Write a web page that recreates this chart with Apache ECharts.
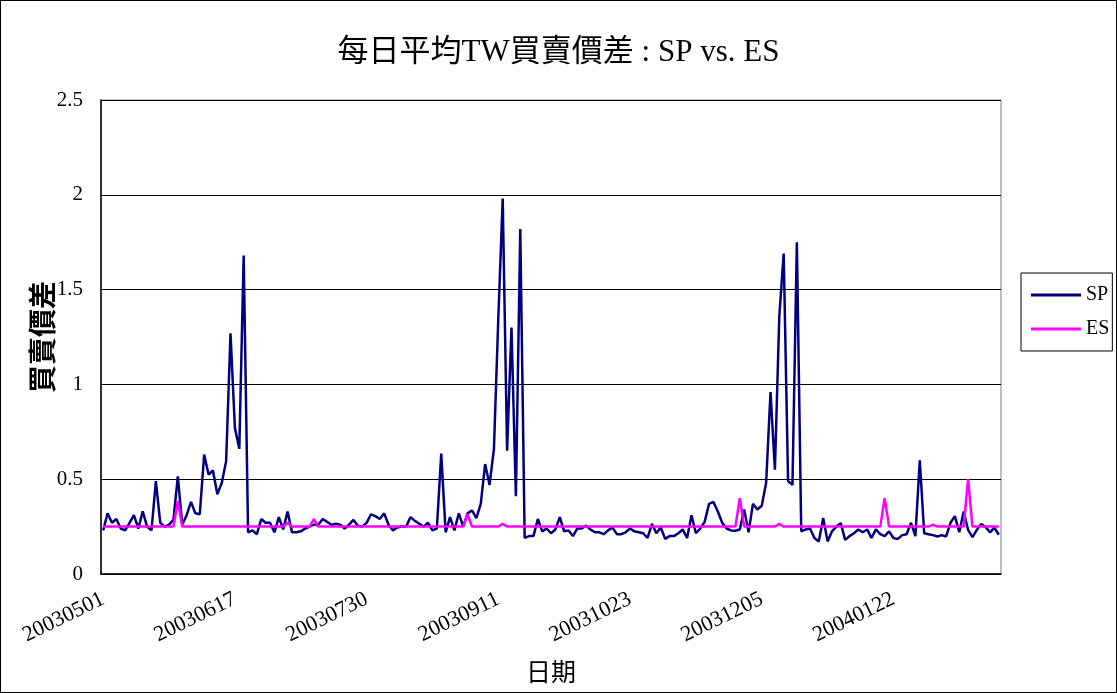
<!DOCTYPE html>
<html>
<head>
<meta charset="utf-8">
<script src="https://cdn.jsdelivr.net/npm/echarts@6/dist/echarts.min.js"></script>
<style>
html,body{margin:0;padding:0;background:#fff;}
#chart{width:1117px;height:693px;box-sizing:border-box;border:1px solid #000;}
</style>
</head>
<body>
<div id="chart"></div>
<script>
// tick labels shown every 30 trading days
const tickLabels = ['20030501','20030617','20030730','20030911','20031023','20031205','20040122'];
const labelStep = 30;

const spValues = [
0.23,0.32,0.27,0.29,0.24,0.23,0.27,0.31,0.24,0.33,
0.25,0.23,0.49,0.27,0.25,0.26,0.285,0.515,0.26,0.31,
0.38,0.32,0.315,0.63,0.525,0.546,0.42,0.48,0.595,1.27,
0.77,0.66,1.68,0.22,0.23,0.21,0.29,0.27,0.27,0.22,
0.30,0.235,0.33,0.22,0.22,0.225,0.24,0.25,0.26,0.26,
0.29,0.275,0.26,0.265,0.26,0.24,0.26,0.285,0.255,0.25,
0.27,0.315,0.305,0.29,0.32,0.26,0.23,0.245,0.25,0.25,
0.30,0.28,0.265,0.25,0.27,0.23,0.24,0.635,0.22,0.30,
0.23,0.32,0.25,0.32,0.335,0.295,0.37,0.58,0.47,0.66,
1.35,1.98,0.65,1.30,0.41,1.82,0.19,0.20,0.20,0.29,
0.225,0.24,0.215,0.235,0.30,0.225,0.23,0.20,0.24,0.24,
0.255,0.235,0.22,0.22,0.21,0.23,0.245,0.21,0.21,0.22,
0.24,0.225,0.22,0.215,0.19,0.265,0.215,0.245,0.185,0.20,
0.20,0.215,0.235,0.19,0.31,0.215,0.24,0.275,0.37,0.38,
0.33,0.27,0.24,0.23,0.228,0.235,0.34,0.22,0.37,0.34,
0.36,0.48,0.96,0.55,1.36,1.69,0.49,0.47,1.75,0.225,
0.235,0.24,0.19,0.172,0.295,0.172,0.225,0.25,0.268,0.18,
0.20,0.215,0.235,0.22,0.235,0.19,0.235,0.21,0.20,0.225,
0.19,0.185,0.205,0.21,0.27,0.20,0.60,0.215,0.21,0.205,
0.198,0.205,0.198,0.27,0.305,0.22,0.33,0.233,0.195,0.233,
0.264,0.247,0.22,0.245,0.207
];

const esValues = [
0.25,0.25,0.25,0.25,0.25,0.25,0.25,0.25,0.25,0.25,
0.25,0.25,0.25,0.25,0.25,0.25,0.25,0.385,0.25,0.25,
0.25,0.25,0.25,0.25,0.25,0.25,0.25,0.25,0.25,0.25,
0.25,0.25,0.25,0.25,0.25,0.25,0.25,0.25,0.25,0.25,
0.25,0.25,0.27,0.25,0.25,0.25,0.25,0.25,0.29,0.25,
0.25,0.25,0.25,0.25,0.25,0.25,0.25,0.25,0.25,0.25,
0.25,0.25,0.25,0.25,0.25,0.25,0.25,0.25,0.25,0.25,
0.25,0.25,0.25,0.25,0.25,0.25,0.25,0.25,0.25,0.25,
0.25,0.25,0.25,0.315,0.25,0.25,0.25,0.25,0.25,0.25,
0.25,0.265,0.25,0.25,0.25,0.25,0.25,0.25,0.25,0.25,
0.25,0.25,0.25,0.25,0.25,0.25,0.25,0.25,0.25,0.25,
0.25,0.25,0.25,0.25,0.25,0.25,0.25,0.25,0.25,0.25,
0.25,0.25,0.25,0.25,0.25,0.25,0.25,0.25,0.25,0.25,
0.25,0.25,0.25,0.25,0.25,0.25,0.25,0.25,0.25,0.25,
0.25,0.25,0.25,0.25,0.25,0.40,0.25,0.25,0.25,0.25,
0.25,0.25,0.25,0.25,0.265,0.25,0.25,0.25,0.25,0.25,
0.25,0.25,0.25,0.25,0.25,0.25,0.25,0.25,0.25,0.25,
0.25,0.25,0.25,0.25,0.25,0.25,0.25,0.25,0.40,0.25,
0.25,0.25,0.25,0.25,0.25,0.25,0.25,0.25,0.25,0.26,
0.25,0.25,0.25,0.25,0.25,0.25,0.25,0.50,0.25,0.25,
0.25,0.25,0.25,0.25,0.25
];

const categories = spValues.map((v, i) =>
  (i % labelStep === 0 && tickLabels[i / labelStep]) ? tickLabels[i / labelStep] : ('#' + i));

const serif = "'Liberation Serif', 'Times New Roman', 'Noto Sans CJK TC', serif";

const chart = echarts.init(document.getElementById('chart'), null, {renderer: 'canvas'});
chart.setOption({
  animation: false,
  backgroundColor: '#fff',
  title: {
    text: '每日平均TW買賣價差 : SP vs. ES',
    left: 'center',
    top: 31,
    textStyle: {fontFamily: serif, fontSize: 31, fontWeight: 'normal', color: '#000'}
  },
  grid: {left: 100, right: 115, top: 99, bottom: 115, show: true, borderColor: '#808080', borderWidth: 1},
  legend: {
    orient: 'vertical',
    left: 1020,
    top: 272,
    padding: [12, 3, 12, 10],
    itemGap: 14,
    itemWidth: 50,
    itemHeight: 3,
    icon: 'rect',
    borderColor: '#000',
    borderWidth: 1,
    textStyle: {fontFamily: serif, fontSize: 20, color: '#000'},
    data: ['SP', 'ES']
  },
  xAxis: {
    type: 'category',
    data: categories,
    boundaryGap: true,
    name: '日期',
    nameLocation: 'middle',
    nameGap: 88,
    nameMoveOverlap: false,
    nameTextStyle: {fontFamily: serif, fontSize: 25, color: '#000'},
    axisLine: {lineStyle: {color: '#000', width: 1.5}},
    axisTick: {inside: true, interval: 3, length: 7, lineStyle: {color: '#000'}},
    axisLabel: {
      interval: labelStep - 1,
      rotate: 26,
      margin: 24,
      fontFamily: serif,
      fontSize: 22,
      color: '#000'
    },
    splitLine: {show: false}
  },
  yAxis: {
    type: 'value',
    min: 0,
    max: 2.5,
    interval: 0.5,
    name: '買賣價差',
    nameLocation: 'middle',
    nameGap: 41,
    nameMoveOverlap: false,
    nameTextStyle: {fontFamily: serif, fontSize: 28, fontWeight: 'bold', color: '#000'},
    axisLine: {show: true, lineStyle: {color: '#000', width: 1.5}},
    axisTick: {show: true, inside: true, length: 7, lineStyle: {color: '#000'}},
    axisLabel: {fontFamily: serif, fontSize: 21, color: '#000', margin: 18},
    splitLine: {show: true, lineStyle: {color: '#000', width: 1}}
  },
  series: [
    {
      name: 'SP', type: 'line', data: spValues, symbol: 'none',
      lineStyle: {color: '#000080', width: 2.5}, itemStyle: {color: '#000080'}
    },
    {
      name: 'ES', type: 'line', data: esValues, symbol: 'none',
      lineStyle: {color: '#FF00FF', width: 2.5}, itemStyle: {color: '#FF00FF'}
    }
  ]
});
</script>
</body>
</html>
